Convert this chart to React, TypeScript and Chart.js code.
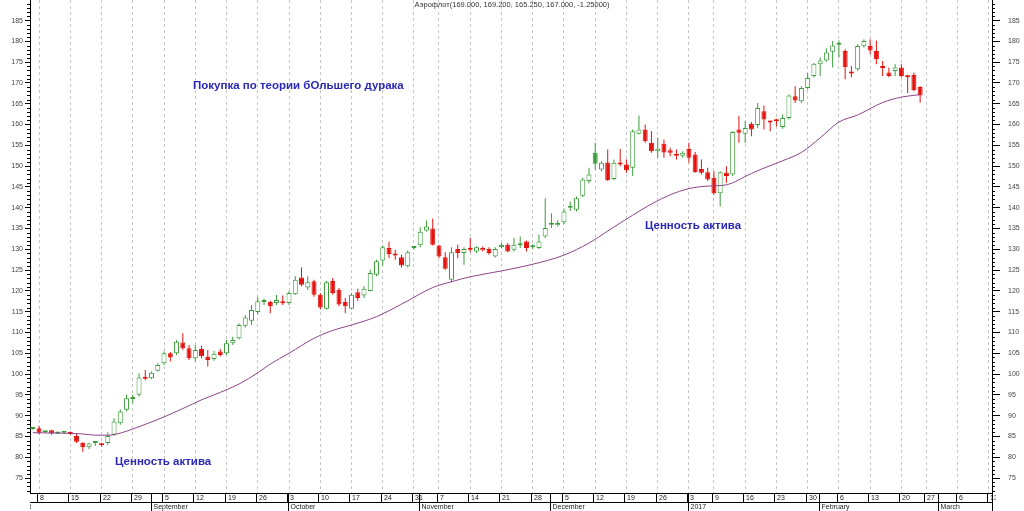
import React, { useEffect, useRef } from 'react';
import { Chart, registerables } from 'chart.js';

Chart.register(...registerables);

// ---------- data (trading-day index 0 = 5 Aug 2016) ----------
const opens = [
  86.8, 87.0, 86.0, 86.5, 85.7, 85.9, 86.0, 85.1, 83.5, 82.4,
  83.4, 83.3, 83.4, 85.4, 88.2, 91.4, 94.0, 95.0, 99.3, 99.0,
  100.8, 102.6, 105.0, 105.0, 107.6, 106.2, 103.8, 106.0, 104.2, 103.6,
  105.4, 105.0, 107.4, 108.6, 111.6, 112.8, 114.9, 117.3, 117.3, 117.1,
  117.3, 117.1, 119.2, 123.2, 120.8, 122.3, 119.1, 115.7, 122.4, 120.3,
  117.3, 115.7, 119.7, 118.9, 120.0, 123.9, 127.3, 130.3, 128.8, 128.1,
  125.9, 130.3, 131.0, 134.5, 135.0, 130.9, 128.1, 122.7, 130.1, 129.1,
  130.2, 129.5, 129.8, 130.1, 128.3, 131.1, 131.1, 129.9, 131.0, 131.9,
  130.5, 130.3, 133.1, 135.9, 135.8, 136.5, 140.0, 139.5, 142.9, 146.4,
  153.2, 149.2, 150.9, 146.9, 150.8, 150.4, 149.6, 157.8, 158.8, 155.6,
  153.6, 155.4, 153.8, 152.9, 152.5, 154.1, 152.8, 149.3, 148.5, 147.2,
  143.5, 148.4, 148.0, 158.8, 157.8, 160.2, 159.9, 163.2, 160.5, 161.1,
  159.4, 161.6, 166.8, 165.6, 168.8, 171.7, 174.5, 175.4, 177.5, 179.2,
  177.7, 172.6, 173.3, 178.8, 178.9, 177.7, 173.9, 172.5, 172.9, 173.7,
  171.6, 171.9, 169.0,
];
const highs = [
  87.2, 87.6, 86.3, 86.6, 86.1, 86.2, 86.2, 85.6, 83.6, 83.5,
  83.6, 83.5, 86.0, 89.4, 91.5, 95.0, 95.0, 100.2, 101.0, 100.6,
  102.6, 105.4, 105.3, 108.2, 109.8, 107.0, 107.0, 106.8, 105.8, 105.6,
  106.0, 108.2, 109.0, 112.2, 114.2, 116.6, 118.6, 118.2, 117.6, 119.0,
  118.9, 119.9, 123.5, 125.6, 123.5, 122.7, 119.5, 122.4, 123.1, 120.7,
  118.3, 119.5, 120.5, 121.1, 125.1, 127.5, 131.0, 131.8, 129.9, 128.7,
  129.7, 130.7, 135.3, 136.9, 137.4, 131.1, 129.3, 130.5, 131.1, 130.5,
  132.7, 130.7, 130.7, 130.5, 130.5, 131.5, 131.5, 132.7, 133.1, 132.1,
  131.2, 133.5, 142.3, 138.7, 137.0, 139.8, 141.5, 142.7, 147.2, 149.6,
  155.6, 151.2, 154.0, 151.6, 154.1, 151.6, 158.8, 162.2, 160.0, 158.4,
  156.8, 156.4, 154.4, 154.0, 153.6, 155.6, 153.4, 151.6, 149.6, 148.8,
  148.8, 150.0, 158.4, 162.1, 160.8, 160.6, 165.2, 164.6, 161.0, 161.4,
  162.4, 167.2, 169.2, 169.2, 172.4, 174.8, 176.1, 178.3, 180.1, 180.2,
  178.1, 174.1, 179.3, 180.5, 180.5, 180.2, 175.3, 173.7, 174.5, 174.5,
  172.0, 172.5, 169.2,
];
const lows = [
  86.6, 85.5, 85.8, 85.4, 85.5, 85.8, 85.3, 83.4, 81.3, 82.0,
  82.7, 82.6, 83.0, 85.1, 87.8, 91.0, 93.0, 94.6, 98.5, 98.8,
  100.6, 102.2, 103.0, 104.6, 105.8, 103.4, 103.0, 103.8, 101.8, 103.2,
  104.2, 104.6, 107.0, 108.3, 111.2, 111.8, 114.4, 116.6, 114.6, 116.6,
  116.6, 116.6, 119.0, 121.1, 120.2, 118.6, 115.5, 115.5, 119.1, 116.3,
  114.6, 115.5, 117.6, 118.3, 119.9, 123.5, 126.1, 127.9, 127.5, 125.6,
  125.6, 129.9, 130.5, 134.2, 130.9, 127.9, 125.1, 122.1, 127.9, 126.3,
  129.3, 129.1, 129.5, 128.7, 128.0, 130.3, 129.3, 129.5, 130.3, 129.5,
  130.0, 130.1, 132.7, 135.1, 135.5, 136.0, 139.2, 139.1, 142.6, 145.8,
  149.2, 148.8, 146.4, 146.6, 150.0, 148.4, 147.6, 157.6, 155.6, 153.2,
  152.0, 152.0, 152.4, 151.6, 152.0, 150.8, 148.4, 148.0, 146.4, 143.1,
  140.3, 146.0, 147.6, 155.6, 155.6, 157.2, 159.1, 158.8, 158.4, 159.6,
  159.0, 161.2, 165.2, 165.2, 168.4, 171.3, 171.7, 175.1, 173.7, 176.1,
  170.9, 171.3, 172.9, 178.5, 176.9, 174.5, 171.7, 171.4, 171.7, 171.3,
  167.6, 168.0, 165.25,
];
const closes = [
  87.0, 85.9, 86.1, 85.7, 85.9, 86.0, 85.6, 83.7, 82.4, 83.3,
  83.5, 82.9, 85.1, 88.6, 91.0, 94.2, 94.4, 99.2, 98.9, 100.3,
  102.2, 105.0, 104.0, 107.8, 106.2, 103.8, 105.8, 104.3, 103.4, 104.9,
  104.6, 107.4, 108.2, 111.8, 113.6, 115.4, 117.5, 117.6, 116.3, 117.8,
  117.0, 119.5, 122.7, 121.5, 122.1, 119.1, 116.0, 122.1, 119.5, 116.7,
  116.3, 119.1, 118.3, 120.5, 124.3, 127.1, 130.5, 128.9, 128.5, 126.1,
  129.3, 130.5, 134.2, 135.5, 131.1, 128.3, 125.3, 129.3, 129.1, 130.1,
  129.9, 130.5, 130.3, 129.1, 130.1, 130.5, 129.5, 131.1, 131.2, 130.3,
  130.5, 131.9, 135.1, 136.2, 136.3, 139.1, 140.3, 142.3, 146.8, 148.0,
  150.6, 150.8, 146.6, 150.8, 150.4, 149.0, 158.4, 158.8, 156.0, 153.6,
  154.2, 153.3, 153.2, 152.5, 153.2, 152.0, 148.5, 148.4, 146.8, 143.5,
  148.5, 147.6, 158.2, 158.0, 159.2, 158.8, 164.0, 161.2, 161.0, 160.8,
  161.6, 167.0, 165.8, 168.8, 171.2, 174.6, 175.4, 177.3, 179.0, 179.4,
  173.8, 172.3, 178.9, 180.1, 177.8, 175.7, 173.6, 171.7, 173.7, 171.7,
  171.4, 168.25, 167.0,
];

// moving average (index, value)
const maIndex = [
  0, 4, 8, 10, 12, 14, 16, 18, 21, 24, 27, 30, 33, 36, 38, 41, 45, 48, 51, 55,
  59, 64, 67, 70, 75, 80, 85, 89, 92, 96, 99, 102, 105, 108, 111, 114, 116, 120,
  123, 126, 129, 132, 136, 139, 142,
];
const maValues = [
  85.9, 85.8, 85.6, 85.3, 85.3, 85.8, 86.8, 87.9, 89.7, 91.7, 93.8, 95.6, 97.6,
  100.3, 102.4, 105.0, 108.6, 110.5, 111.8, 113.8, 116.8, 120.8, 122.2, 123.4,
  124.8, 126.4, 128.6, 131.5, 134.4, 138.2, 140.9, 143.1, 144.6, 145.2, 145.5,
  147.5, 148.9, 151.3, 153.3, 156.8, 160.6, 162.3, 165.3, 166.6, 167.2,
];

// calendar axis
const weekTickIndex = [
  1, 6, 11, 16, 21, 26, 31, 36, 41, 46, 51, 56, 61, 65, 70, 75, 80, 85, 90, 95,
  100, 105, 109, 114, 119, 124, 129, 134, 139, 143, 148, 153,
];
const weekTickLabels = [
  '8', '15', '22', '29', '5', '12', '19', '26', '3', '10', '17', '24', '31', '7',
  '14', '21', '28', '5', '12', '19', '26', '3', '9', '16', '23', '30', '6', '13',
  '20', '27', '6', '13',
];
const monthStartIndex = [-4, 19, 41, 62, 83, 105, 126, 145];
const monthLabels = ['August', 'September', 'October', 'November', 'December', '2017', 'February', 'March'];

const titleText = 'Аэрофлот(169.000, 169.200, 165.250, 167.000, -1.25000)';
const notes = [
  { text: 'Покупка по теории бОльшего дурака', at: [25.64, 169.2] },
  { text: 'Ценность актива', at: [13.16, 78.84] },
  { text: 'Ценность актива', at: [97.96, 135.68] },
];

// ---------- styling ----------
const GREEN = '#3a9d3a';
const RED = '#e3130f';
const FONT = 'Arial, "Liberation Sans", sans-serif';

const candleStyle = opens.map((o, i) => {
  const c = closes[i];
  const prev = i > 0 ? closes[i - 1] : o;
  const color = c >= prev ? GREEN : RED;
  return { color, fill: c > o ? '#ffffff' : color };
});

const decorPlugin = {
  id: 'decor',
  afterDraw(chart: any) {
    const { ctx, chartArea: a, scales } = chart;
    const xs = scales.x;
    const ys = scales.y;
    ctx.save();
    // minor ticks on both value axes
    ctx.strokeStyle = '#000';
    ctx.lineWidth = 1;
    ctx.beginPath();
    for (let v = Math.ceil(ys.min); v <= ys.max; v++) {
      if (v % 5 === 0) continue;
      const py = Math.round(ys.getPixelForValue(v)) + 0.5;
      ctx.moveTo(a.left - 3, py);
      ctx.lineTo(a.left, py);
      ctx.moveTo(a.right, py);
      ctx.lineTo(a.right + 3, py);
    }
    ctx.stroke();

    // calendar strip
    const top = a.bottom;
    const mid = top + 9;
    const bottom = chart.height;
    ctx.save();
    ctx.beginPath();
    ctx.rect(a.left, top, a.right - a.left + 4, bottom - top);
    ctx.clip();
    ctx.beginPath();
    ctx.moveTo(a.left, mid + 0.5);
    ctx.lineTo(a.right, mid + 0.5);
    weekTickIndex.forEach((v) => {
      const px = Math.round(xs.getPixelForValue(v)) - 1.5;
      ctx.moveTo(px, top);
      ctx.lineTo(px, mid);
    });
    monthStartIndex.forEach((v) => {
      const px = Math.round(xs.getPixelForValue(v)) - 0.5;
      ctx.moveTo(px, top);
      ctx.lineTo(px, bottom);
    });
    ctx.stroke();
    ctx.fillStyle = '#222';
    ctx.font = `7px ${FONT}`;
    ctx.textAlign = 'left';
    ctx.textBaseline = 'middle';
    weekTickIndex.forEach((v, k) => {
      const px = Math.round(xs.getPixelForValue(v)) - 1.5;
      ctx.fillText(weekTickLabels[k], px + 2.5, top + 5);
    });
    monthStartIndex.forEach((v, k) => {
      const px = Math.round(xs.getPixelForValue(v)) - 0.5;
      ctx.fillText(monthLabels[k], px + 2, mid + 5);
    });
    ctx.restore();

    // right axis line continues through the strip
    ctx.beginPath();
    ctx.moveTo(a.right + 0.5, top);
    ctx.lineTo(a.right + 0.5, bottom);
    ctx.stroke();

    // header
    ctx.fillStyle = '#333';
    ctx.font = `7.5px ${FONT}`;
    ctx.textAlign = 'center';
    ctx.textBaseline = 'middle';
    ctx.fillText(titleText, (a.left + a.right) / 2 + 1, 5);

    // notes
    ctx.fillStyle = '#2929b5';
    ctx.font = `bold 11.5px ${FONT}`;
    ctx.textAlign = 'left';
    notes.forEach((n) => {
      ctx.fillText(n.text, xs.getPixelForValue(n.at[0]), ys.getPixelForValue(n.at[1]));
    });
    ctx.restore();
  },
};

export default function App() {
  const ref = useRef<HTMLCanvasElement | null>(null);

  useEffect(() => {
    document.body.style.margin = '0';
    const canvas = ref.current;
    if (!canvas) return;
    const yTicks = (side: 'left' | 'right') => ({
      type: 'linear' as const,
      position: side,
      min: 71.4,
      max: 189.95,
      ticks: {
        stepSize: 5,
        includeBounds: false,
        color: '#444',
        font: { family: FONT, size: 7 },
        padding: side === 'left' ? 2 : 8,
      },
      grid: { drawOnChartArea: false, tickLength: side === 'left' ? 5 : 8, tickColor: '#000' },
      border: { color: '#000', width: 1 },
      afterFit: (s: any) => {
        s.width = side === 'left' ? 30 : 32;
        s.paddingTop = 0;
        s.paddingBottom = 0;
      },
    });

    const chart = new Chart(canvas, {
      type: 'bar',
      data: {
        datasets: [
          {
            type: 'line',
            label: 'MA',
            data: maIndex.map((x, k) => ({ x, y: maValues[k] })),
            borderColor: '#8a458a',
            borderWidth: 1,
            pointRadius: 0,
            cubicInterpolationMode: 'monotone',
            order: 1,
            yAxisID: 'y',
          } as any,
          {
            type: 'bar',
            label: 'body',
            data: opens.map((o, i) => ({ x: i, y: [Math.min(o, closes[i]), Math.max(o, closes[i])] })),
            backgroundColor: candleStyle.map((s) => s.fill),
            borderColor: candleStyle.map((s) => s.color),
            borderWidth: 1,
            borderSkipped: false,
            barThickness: 5,
            grouped: false,
            minBarLength: 2,
            inflateAmount: 0,
            order: 2,
            yAxisID: 'y',
          } as any,
          {
            type: 'bar',
            label: 'wick',
            data: lows.map((l, i) => ({ x: i, y: [l, highs[i]] })),
            backgroundColor: candleStyle.map((s) => s.color),
            borderWidth: 0,
            barThickness: 1,
            grouped: false,
            inflateAmount: 0,
            order: 3,
            yAxisID: 'y',
          } as any,
        ],
      },
      options: {
        animation: false,
        responsive: false,
        devicePixelRatio: 1,
        events: [],
        layout: { padding: 0 },
        plugins: { legend: { display: false }, tooltip: { enabled: false }, title: { display: false } },
        scales: {
          x: {
            type: 'linear',
            min: -0.45,
            max: 153.5,
            offset: false,
            afterBuildTicks: (s: any) => {
              s.ticks = weekTickIndex.map((v) => ({ value: v }));
            },
            ticks: { display: false },
            grid: { color: '#c6c6c6', drawTicks: false, offset: false, lineWidth: 1 },
            border: { display: true, color: '#000', width: 1, dash: [3, 3] },
            afterFit: (s: any) => {
              s.height = 18;
            },
          },
          y: yTicks('left'),
          y2: yTicks('right'),
        },
      } as any,
      plugins: [decorPlugin],
    });
    return () => chart.destroy();
  }, []);

  return (
    <div style={{ position: 'fixed', left: 0, top: 0, width: 1024, height: 511, background: '#fff' }}>
      <canvas ref={ref} width={1024} height={511} style={{ display: 'block' }} />
    </div>
  );
}
